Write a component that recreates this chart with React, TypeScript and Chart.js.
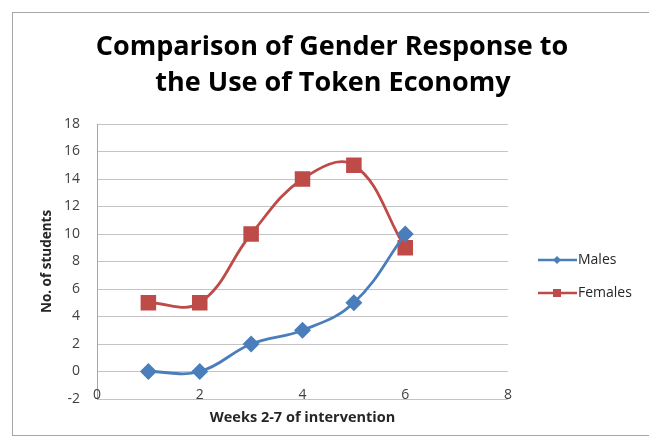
import React, { useEffect, useRef } from "react";
import { Chart, registerables } from "chart.js";

Chart.register(...registerables);

const weeks = [1, 2, 3, 4, 5, 6];
const males = [0, 0, 2, 3, 5, 10];
const females = [5, 5, 10, 14, 15, 9];
const xTickValues = [0, 2, 4, 6, 8];
const titleLines = ["Comparison of Gender Response to", "the Use of Token Economy"];
const seriesNames = ["Males", "Females"];
const xTitle = "Weeks 2-7 of intervention";
const yTitle = "No. of students";

const BLUE = "#4a7ebb";
const RED = "#be4b48";
const FONT = "'Open Sans', Lato, sans-serif";

const overlayPlugin = {
  id: "overlay",
  afterDraw(chart: any) {
    const ctx = chart.ctx;
    ctx.save();
    // title
    ctx.fillStyle = "#000";
    ctx.font = `bold 27px ${FONT}`;
    ctx.textAlign = "center";
    ctx.textBaseline = "alphabetic";
    ctx.fillText(titleLines[0], 332, 55);
    ctx.fillText(titleLines[1], 333, 91);
    // x tick labels
    const xs = chart.scales.x;
    ctx.fillStyle = "#404040";
    ctx.font = `14px ${FONT}`;
    ctx.textAlign = "center";
    ctx.textBaseline = "alphabetic";
    for (const v of xTickValues) {
      ctx.fillText(String(v), xs.getPixelForValue(v), 399);
    }
    // legend
    const items = [
      { name: seriesNames[0], color: BLUE, y: 260, shape: "diamond" },
      { name: seriesNames[1], color: RED, y: 293, shape: "square" },
    ];
    for (const it of items) {
      ctx.strokeStyle = it.color;
      ctx.lineWidth = 2.5;
      ctx.beginPath();
      ctx.moveTo(538, it.y);
      ctx.lineTo(577, it.y);
      ctx.stroke();
      ctx.fillStyle = it.color;
      const cx = 557;
      if (it.shape === "diamond") {
        ctx.beginPath();
        ctx.moveTo(cx, it.y - 4);
        ctx.lineTo(cx + 4, it.y);
        ctx.lineTo(cx, it.y + 4);
        ctx.lineTo(cx - 4, it.y);
        ctx.closePath();
        ctx.fill();
      } else {
        ctx.fillRect(cx - 4, it.y - 4, 8, 8);
      }
      ctx.fillStyle = "#262626";
      ctx.font = `14px ${FONT}`;
      ctx.textAlign = "left";
      ctx.textBaseline = "middle";
      ctx.fillText(it.name, 578, it.y);
    }
    ctx.restore();
  },
};

export default function App() {
  const ref = useRef<HTMLCanvasElement>(null);
  useEffect(() => {
    if (!ref.current) return;
    const chart = new Chart(ref.current, {
      type: "line",
      data: {
        datasets: [
          {
            label: seriesNames[0],
            data: weeks.map((w, i) => ({ x: w, y: males[i] })),
            borderColor: BLUE,
            backgroundColor: BLUE,
            borderWidth: 2.8,
            tension: 0.4,
            pointStyle: "rectRot",
            pointRadius: 6.5,
            pointHoverRadius: 6.5,
          },
          {
            label: seriesNames[1],
            data: weeks.map((w, i) => ({ x: w, y: females[i] })),
            borderColor: RED,
            backgroundColor: RED,
            borderWidth: 2.8,
            tension: 0.4,
            pointStyle: "rect",
            pointRadius: 9,
            pointHoverRadius: 9,
          },
        ],
      },
      options: {
        animation: false,
        responsive: false,
        devicePixelRatio: 1,
        layout: { padding: { left: 0, top: 124, right: 141, bottom: 0 } },
        plugins: {
          legend: { display: false },
          title: { display: false },
          tooltip: { enabled: false },
        },
        scales: {
          x: {
            type: "linear",
            min: 0,
            max: 8,
            grid: { display: false, drawTicks: false },
            border: { display: false },
            ticks: {
              stepSize: 2,
              display: false,
            },
            title: {
              display: true,
              text: xTitle,
              color: "#262626",
              font: { family: FONT, size: 14.5, weight: "bold" },
              padding: { top: 0, bottom: 13 },
            },
            afterFit(scale: any) {
              scale.height = 41;
            },
          },
          y: {
            min: -2,
            max: 18,
            grid: { color: "#c4c4c4", lineWidth: 1, drawTicks: false },
            border: { display: true, color: "#a6a6a6" },
            ticks: {
              stepSize: 2,
              padding: 17,
              color: "#404040",
              font: { family: FONT, size: 14 },
            },
            title: {
              display: true,
              text: yTitle,
              color: "#262626",
              font: { family: FONT, size: 13.5, weight: "bold" },
              padding: { top: 39, bottom: 0 },
            },
            afterFit(scale: any) {
              scale.width = 97;
            },
          },
        },
      },
      plugins: [overlayPlugin],
    });
    return () => chart.destroy();
  }, []);
  return (
    <div style={{ position: "absolute", left: 0, top: 0, width: 649, height: 440, background: "#fff", overflow: "hidden" }}>
      <div
        style={{
          position: "absolute",
          left: 12,
          top: 12,
          width: 700,
          height: 424,
          border: "1px solid #a6a6a6",
          boxSizing: "border-box",
        }}
      />
      <canvas ref={ref} width={649} height={440} style={{ position: "absolute", left: 0, top: 0, width: 649, height: 440 }} />
    </div>
  );
}
